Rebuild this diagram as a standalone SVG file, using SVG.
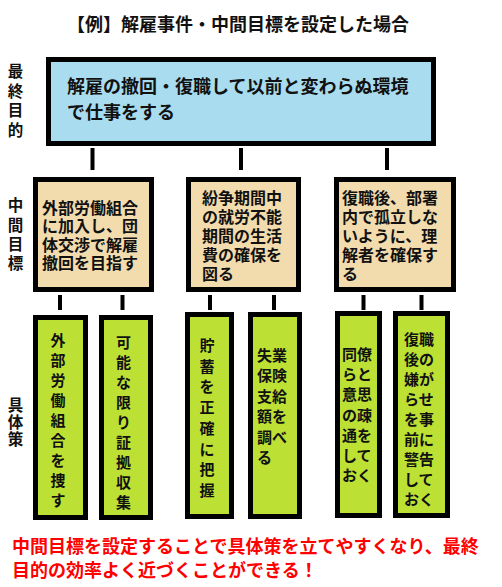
<svg xmlns="http://www.w3.org/2000/svg" width="502" height="587" viewBox="0 0 502 587">
<style>
text{font-family:"Noto Sans CJK JP","Noto Sans CJK SC",sans-serif;font-weight:bold;fill:#111}
.box{stroke:#000;stroke-width:5}
.goal{fill:#a8dcee}
.mid{fill:#f2dcae}
.low{fill:#bde035}
.bar{fill:#000}
.t18{font-size:18px}
.t16{font-size:16px}
.t15{font-size:15px}
.lbl{font-size:15.5px;text-anchor:middle}
.red{fill:#ff0000;font-size:18px}
.c{text-anchor:middle}
</style>
<rect width="502" height="587" fill="#fff"/>
<text class="t18" x="67" y="31">【例】解雇事件・中間目標を設定した場合</text>
<g id="labels">
<text class="lbl"><tspan x="15.5" y="77">最</tspan><tspan x="15.5" y="96.5">終</tspan><tspan x="15.5" y="116">目</tspan><tspan x="15.5" y="135.5">的</tspan></text>
<text class="lbl"><tspan x="15.5" y="211">中</tspan><tspan x="15.5" y="230.5">間</tspan><tspan x="15.5" y="250">目</tspan><tspan x="15.5" y="269">標</tspan></text>
<text class="lbl"><tspan x="15.5" y="411">具</tspan><tspan x="15.5" y="428">体</tspan><tspan x="15.5" y="445">策</tspan></text>
</g>
<g id="connectors">
<rect class="bar" x="90.5" y="148" width="4" height="22"/>
<rect class="bar" x="239" y="148" width="4" height="22"/>
<rect class="bar" x="385" y="148" width="4" height="22"/>
<rect class="bar" x="58" y="295" width="4" height="15"/>
<rect class="bar" x="120.5" y="295" width="4" height="15"/>
<rect class="bar" x="208" y="295" width="4" height="15"/>
<rect class="bar" x="272" y="295" width="4" height="15"/>
<rect class="bar" x="361.5" y="295" width="4" height="15"/>
<rect class="bar" x="419.5" y="295" width="4" height="15"/>
</g>
<g id="goal">
<rect class="box goal" x="48.5" y="59.5" width="385" height="84"/>
<text class="t18"><tspan x="67" y="93">解雇の撤回・復職して以前と変わらぬ環境</tspan><tspan x="67" y="119">で仕事をする</tspan></text>
</g>
<g id="mid1">
<rect class="box mid" x="35.5" y="179.5" width="116" height="110"/>
<text class="t16"><tspan x="42" y="214">外部労働組合</tspan><tspan x="42" y="232.3">に加入し、団</tspan><tspan x="42" y="250.6">体交渉で解雇</tspan><tspan x="42" y="268.9">撤回を目指す</tspan></text>
</g>
<g id="mid2">
<rect class="box mid" x="188.5" y="179.5" width="110" height="110"/>
<text class="t16"><tspan x="202" y="204">紛争期間中</tspan><tspan x="202" y="223">の就労不能</tspan><tspan x="202" y="242">期間の生活</tspan><tspan x="202" y="261">費の確保を</tspan><tspan x="202" y="280">図る</tspan></text>
</g>
<g id="mid3">
<rect class="box mid" x="336.5" y="179.5" width="117" height="110"/>
<text class="t16"><tspan x="342" y="204">復職後、部署</tspan><tspan x="342" y="223">内で孤立しな</tspan><tspan x="342" y="242">いように、理</tspan><tspan x="342" y="261">解者を確保す</tspan><tspan x="342" y="280">る</tspan></text>
</g>
<g id="lowA">
<rect class="box low" x="35.5" y="317.5" width="50" height="200"/>
<text class="t15 c"><tspan x="58" y="346">外</tspan><tspan x="58" y="366">部</tspan><tspan x="58" y="386">労</tspan><tspan x="58" y="406">働</tspan><tspan x="58" y="426">組</tspan><tspan x="58" y="446">合</tspan><tspan x="58" y="466">を</tspan><tspan x="58" y="486">捜</tspan><tspan x="58" y="506">す</tspan></text>
</g>
<g id="lowB">
<rect class="box low" x="101.5" y="317.5" width="49" height="200"/>
<text class="t15 c"><tspan x="123.5" y="348">可</tspan><tspan x="123.5" y="368">能</tspan><tspan x="123.5" y="388">な</tspan><tspan x="123.5" y="408">限</tspan><tspan x="123.5" y="428">り</tspan><tspan x="123.5" y="448">証</tspan><tspan x="123.5" y="468">拠</tspan><tspan x="123.5" y="488">収</tspan><tspan x="123.5" y="508">集</tspan></text>
</g>
<g id="lowC">
<rect class="box low" x="187.5" y="314.5" width="44" height="202"/>
<text class="t15 c"><tspan x="207" y="351">貯</tspan><tspan x="207" y="371.7">蓄</tspan><tspan x="207" y="392.4">を</tspan><tspan x="207" y="413.1">正</tspan><tspan x="207" y="433.8">確</tspan><tspan x="207" y="454.5">に</tspan><tspan x="207" y="475.2">把</tspan><tspan x="207" y="495.9">握</tspan></text>
</g>
<g id="lowD">
<rect class="box low" x="250.5" y="314.5" width="49" height="202"/>
<text class="t15"><tspan x="257" y="361">失業</tspan><tspan x="257" y="381.4">保険</tspan><tspan x="257" y="401.8">支給</tspan><tspan x="257" y="422.2">額を</tspan><tspan x="257" y="442.6">調べ</tspan><tspan x="257" y="463">る</tspan></text>
</g>
<g id="lowE">
<rect class="box low" x="337.5" y="313.5" width="42" height="202"/>
<text class="t15"><tspan x="342" y="360">同僚</tspan><tspan x="342" y="380.2">らと</tspan><tspan x="342" y="400.4">意思</tspan><tspan x="342" y="420.6">の疎</tspan><tspan x="342" y="440.8">通を</tspan><tspan x="342" y="461">して</tspan><tspan x="342" y="481.2">おく</tspan></text>
</g>
<g id="lowF">
<rect class="box low" x="395.5" y="313.5" width="52" height="202"/>
<text class="t15"><tspan x="404" y="345">復職</tspan><tspan x="404" y="365">後の</tspan><tspan x="404" y="385">嫌が</tspan><tspan x="404" y="405">らせ</tspan><tspan x="404" y="425">を事</tspan><tspan x="404" y="445">前に</tspan><tspan x="404" y="465">警告</tspan><tspan x="404" y="485">して</tspan><tspan x="404" y="505">おく</tspan></text>
</g>
<text class="red"><tspan x="12" y="553">中間目標を設定することで具体策を立てやすくなり、最終</tspan><tspan x="12" y="577">目的の効率よく近づくことができる！</tspan></text>
</svg>
